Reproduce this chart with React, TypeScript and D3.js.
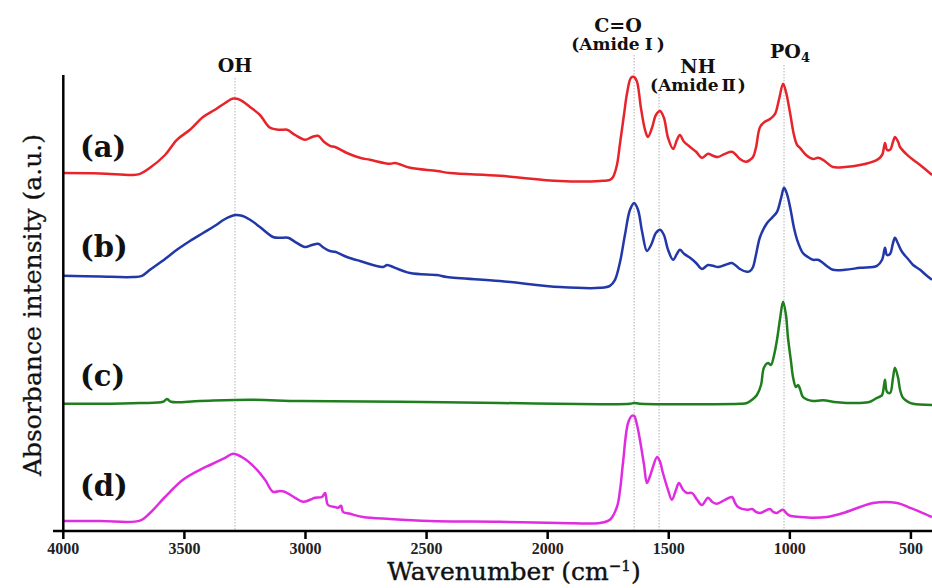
import React from "react";
import * as d3 from "d3";

// ---- data (wavenumber cm^-1, absorbance a.u.) ----
const waveA = [4000,3848,3712,3683,3642,3580,3531,3477,3423,3374,3332,3299,3270,3229,3188,3146,3105,3076,3043,3002,2973,2948,2924,2899,2878,2829,2775,2734,2651,2630,2568,2457,2403,2197,1949,1784,1743,1730,1714,1701,1685,1672,1656,1643,1631,1615,1598,1586,1569,1553,1536,1520,1503,1482,1466,1454,1437,1412,1387,1363,1338,1317,1297,1268,1239,1222,1206,1181,1164,1152,1140,1123,1103,1082,1061,1045,1028,1016,999,983,970,958,933,904,884,863,842,822,772,710,640,619,607,599,586,574,566,553,545,520,491,462,438,413];
const absA = [0.895,0.894,0.890,0.893,0.908,0.940,0.978,1.003,1.035,1.053,1.070,1.081,1.078,1.060,1.040,1.008,1.003,1.003,0.990,0.978,0.985,0.988,0.973,0.963,0.960,0.945,0.933,0.928,0.918,0.920,0.908,0.900,0.895,0.888,0.875,0.875,0.878,0.885,0.915,0.970,1.040,1.095,1.133,1.135,1.123,1.058,1.003,0.985,1.008,1.040,1.050,1.033,0.983,0.955,0.978,0.990,0.973,0.960,0.948,0.933,0.943,0.938,0.935,0.943,0.948,0.940,0.930,0.923,0.928,0.935,0.958,1.010,1.023,1.030,1.043,1.078,1.118,1.098,1.045,0.990,0.965,0.958,0.940,0.930,0.933,0.928,0.918,0.910,0.910,0.915,0.928,0.940,0.970,0.953,0.953,0.973,0.985,0.973,0.960,0.943,0.928,0.915,0.903,0.890];

const waveB = [4000,3848,3712,3675,3642,3580,3531,3477,3423,3374,3332,3291,3262,3229,3188,3134,3105,3072,3043,3002,2973,2948,2924,2899,2878,2829,2775,2680,2663,2651,2568,2457,2416,2197,1949,1784,1743,1722,1701,1681,1660,1643,1627,1610,1590,1573,1553,1536,1520,1503,1482,1466,1454,1437,1412,1387,1363,1338,1317,1297,1268,1239,1222,1206,1177,1164,1152,1140,1123,1094,1074,1053,1036,1024,1012,999,983,970,946,925,904,884,863,842,822,772,710,640,619,607,599,586,574,566,553,537,512,491,462,438,413];
const absB = [0.638,0.636,0.635,0.638,0.653,0.680,0.703,0.725,0.745,0.763,0.780,0.790,0.788,0.778,0.760,0.735,0.733,0.733,0.723,0.710,0.715,0.718,0.708,0.700,0.698,0.685,0.675,0.660,0.665,0.663,0.645,0.640,0.635,0.625,0.610,0.608,0.613,0.628,0.673,0.740,0.803,0.820,0.803,0.748,0.700,0.715,0.745,0.753,0.740,0.703,0.678,0.693,0.703,0.693,0.683,0.670,0.655,0.665,0.663,0.660,0.665,0.670,0.663,0.655,0.648,0.650,0.660,0.690,0.735,0.770,0.783,0.798,0.833,0.858,0.843,0.810,0.758,0.728,0.695,0.685,0.678,0.678,0.670,0.660,0.653,0.653,0.658,0.663,0.678,0.708,0.690,0.693,0.720,0.733,0.718,0.698,0.680,0.665,0.653,0.640,0.628];

const waveC = [4000,3848,3683,3588,3572,3555,3436,3229,3023,2610,2197,1784,1660,1643,1619,1371,1206,1177,1156,1136,1119,1107,1090,1078,1065,1053,1041,1028,1016,1008,995,987,975,966,958,946,925,904,863,805,710,669,648,628,619,611,607,599,586,574,566,553,545,533,512,491,413];
const absC = [0.318,0.318,0.320,0.323,0.330,0.323,0.325,0.328,0.325,0.323,0.320,0.317,0.318,0.320,0.318,0.317,0.318,0.320,0.328,0.340,0.365,0.408,0.420,0.415,0.440,0.478,0.528,0.573,0.540,0.485,0.423,0.385,0.360,0.365,0.355,0.335,0.328,0.325,0.327,0.322,0.320,0.323,0.330,0.336,0.340,0.365,0.378,0.348,0.345,0.383,0.408,0.383,0.353,0.333,0.323,0.318,0.315];

const waveD = [4000,3848,3683,3642,3580,3506,3436,3394,3332,3299,3258,3200,3167,3134,3105,3085,3043,3010,2981,2961,2932,2919,2907,2878,2866,2853,2845,2816,2762,2651,2486,2197,1949,1784,1743,1714,1701,1689,1668,1652,1643,1631,1619,1602,1590,1577,1569,1548,1536,1524,1503,1487,1470,1458,1441,1425,1404,1383,1363,1338,1321,1301,1268,1239,1226,1214,1177,1156,1140,1123,1103,1082,1069,1053,1041,1028,1012,999,958,904,847,780,710,657,557,504,462,413];
const absD = [0.025,0.025,0.026,0.045,0.085,0.128,0.153,0.165,0.183,0.193,0.183,0.153,0.128,0.098,0.100,0.098,0.083,0.073,0.078,0.083,0.085,0.095,0.065,0.060,0.058,0.063,0.048,0.043,0.035,0.030,0.025,0.023,0.020,0.020,0.028,0.060,0.103,0.170,0.270,0.288,0.288,0.265,0.228,0.165,0.120,0.138,0.153,0.185,0.173,0.145,0.103,0.078,0.103,0.120,0.103,0.095,0.095,0.078,0.065,0.083,0.073,0.068,0.078,0.085,0.070,0.060,0.053,0.055,0.048,0.045,0.050,0.055,0.048,0.045,0.050,0.053,0.043,0.038,0.035,0.033,0.035,0.045,0.060,0.070,0.070,0.058,0.048,0.035];

const seriesLabels = ["(a)", "(b)", "(c)", "(d)"];
const seriesColors = ["#e8242b", "#2238a8", "#1f7f1f", "#e02ce0"];
const xTicks = [4000, 3500, 3000, 2500, 2000, 1500, 1000, 500];
const peakWaves = [3291, 1643, 1540, 1024];

const W = 932, H = 588;

export default function App() {
  const x = d3.scaleLinear().domain([4000, 413]).range([63.3, 932]);
  const y = d3.scaleLinear().domain([0, 1.14]).range([531, 75]);
  const line = d3
    .line<[number, number]>()
    .x((d) => x(d[0]))
    .y((d) => y(d[1]))
    .curve(d3.curveCatmullRom.alpha(0.5));

  const series = [
    [waveA, absA],
    [waveB, absB],
    [waveC, absC],
    [waveD, absD],
  ].map(([w, a]) => w.map((v, i) => [v, a[i]] as [number, number]));

  const labelBaselines = [157, 257, 386, 496];
  const peakTops = [78, 55, 94, 65];
  const serif = "'DejaVu Serif', serif";
  const tickFont = "'Liberation Serif', serif";

  return (
    <svg width={W} height={H} style={{ position: "absolute", left: 0, top: 0, background: "#fff" }}>
      {/* guide lines */}
      {peakWaves.map((p, i) => (
        <line key={p} x1={x(p)} x2={x(p)} y1={peakTops[i]} y2={530} stroke="#b0b0b0" strokeWidth={1} strokeDasharray="1.5,1.5" />
      ))}
      {/* spectra */}
      {series.map((s, i) => (
        <path key={i} d={line(s) || ""} fill="none" stroke={seriesColors[i]} strokeWidth={2.5} strokeLinejoin="round" />
      ))}
      {/* axes */}
      <line x1={63.3} x2={63.3} y1={75} y2={531} stroke="#000" strokeWidth={2.5} />
      <line x1={53} x2={932} y1={531} y2={531} stroke="#000" strokeWidth={2.5} />
      {xTicks.map((t) => (
        <g key={t}>
          <line x1={x(t)} x2={x(t)} y1={531} y2={539} stroke="#000" strokeWidth={2.5} />
          <text x={x(t)} y={553.5} textAnchor="middle" fontFamily={tickFont} fontWeight="bold" fontSize={16} fill="#222">
            {t}
          </text>
        </g>
      ))}
      <text x={514} y={580} textAnchor="middle" fontFamily={serif} fontSize={25} fill="#111" stroke="#111" strokeWidth={0.4}>
        Wavenumber (cm<tspan dy={-9} fontSize={15}>−1</tspan><tspan dy={9}>)</tspan>
      </text>
      <text transform="translate(41,305) rotate(-90)" textAnchor="middle" fontFamily={serif} fontSize={25} fill="#111" stroke="#111" strokeWidth={0.3}>
        Absorbance intensity (a.u.)
      </text>
      {/* series labels */}
      {seriesLabels.map((l, i) => (
        <text key={l} x={80} y={labelBaselines[i]} fontFamily={serif} fontWeight="bold" fontSize={29} fill="#111">
          {l}
        </text>
      ))}
      {/* peak labels */}
      <text x={x(peakWaves[0])} y={72} textAnchor="middle" fontFamily={serif} fontWeight="bold" fontSize={19} fill="#111">OH</text>
      <text x={618} y={32} textAnchor="middle" fontFamily={serif} fontWeight="bold" fontSize={19} fill="#111">C=O</text>
      <text x={618} y={50} textAnchor="middle" fontFamily={serif} fontWeight="bold" fontSize={17} fill="#111">
        (Amide<tspan dx={5}>Ⅰ</tspan><tspan dx={4}>)</tspan>
      </text>
      <text x={698} y={73} textAnchor="middle" fontFamily={serif} fontWeight="bold" fontSize={19} fill="#111">NH</text>
      <text x={698} y={91} textAnchor="middle" fontFamily={serif} fontWeight="bold" fontSize={17} fill="#111">
        (Amide<tspan dx={3}>Ⅱ</tspan><tspan dx={2}>)</tspan>
      </text>
      <text x={790} y={58} textAnchor="middle" fontFamily={serif} fontWeight="bold" fontSize={19} fill="#111">
        PO<tspan dy={4} fontSize={13}>4</tspan>
      </text>
    </svg>
  );
}
